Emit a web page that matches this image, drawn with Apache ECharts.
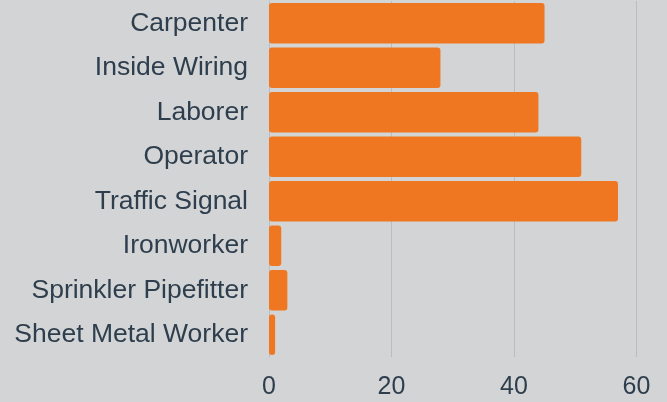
<!DOCTYPE html>
<html>
<head>
<meta charset="utf-8">
<script src="https://cdn.jsdelivr.net/npm/echarts@6/dist/echarts.min.js"></script>
<style>
  html, body { margin: 0; padding: 0; background: #d3d4d6; }
  #chart { width: 667px; height: 402px; }
</style>
</head>
<body>
<div id="chart"></div>
<script>
// categories top to bottom, as in the picture
var trades = ["Carpenter", "Inside Wiring", "Laborer", "Operator", "Traffic Signal", "Ironworker", "Sprinkler Pipefitter", "Sheet Metal Worker"];
var counts = [45, 28, 44, 51, 57, 2, 3, 1];

var myChart = echarts.init(document.getElementById("chart"));
var textColor = "#2e3e4d";
var option = {
  backgroundColor: "#d3d4d6",
  animation: false,
  grid: { left: 269, right: 0, top: 1, bottom: 45, containLabel: false },
  xAxis: {
    type: "value",
    min: 0,
    max: 65,
    interval: 20,
    axisLine: { show: false },
    axisTick: { show: false },
    axisLabel: {
      color: textColor,
      fontSize: 25,
      fontFamily: "Liberation Sans, Arial, sans-serif",
      margin: 18,
      showMaxLabel: false
    },
    splitLine: { lineStyle: { color: "#bbbcbe", width: 1 } }
  },
  yAxis: {
    type: "category",
    inverse: true,
    data: trades,
    axisLine: { show: true, lineStyle: { color: "#bbbcbe" } },
    axisTick: { show: false },
    axisLabel: {
      color: textColor,
      fontSize: 26.5,
      fontFamily: "Liberation Sans, Arial, sans-serif",
      margin: 21,
      padding: [4, 0, 0, 0]
    }
  },
  series: [{
    type: "bar",
    data: counts,
    barCategoryGap: "9%",
    itemStyle: { color: "#f07722", borderRadius: 3 }
  }]
};
myChart.setOption(option);
</script>
</body>
</html>
